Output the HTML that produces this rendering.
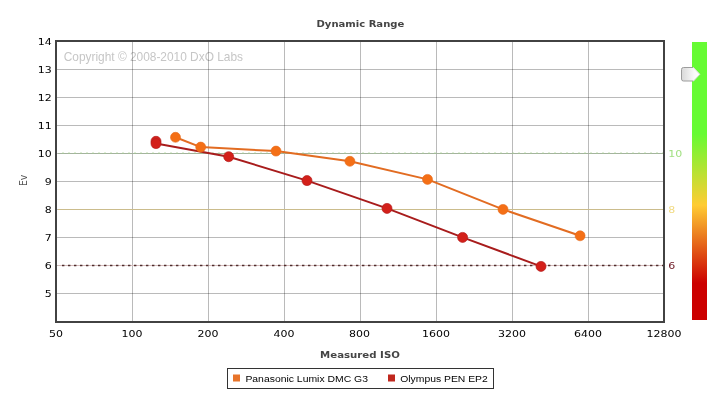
<!DOCTYPE html>
<html><head><meta charset="utf-8"><title>Dynamic Range</title>
<style>
html,body{margin:0;padding:0;background:#fff;}
body{width:720px;height:403px;overflow:hidden;}
svg{display:block;}
.v{font-family:"DejaVu Sans","Liberation Sans",sans-serif;}
.a{font-family:"Liberation Sans","DejaVu Sans",sans-serif;}
</style></head><body>
<svg width="720" height="403" viewBox="0 0 720 403">
<defs>
<linearGradient id="bar" x1="0" y1="0" x2="0" y2="1">
<stop offset="0" stop-color="#66fb33"/>
<stop offset="0.33" stop-color="#66fb33"/>
<stop offset="0.587" stop-color="#ffcc33"/>
<stop offset="0.867" stop-color="#cc0000"/>
<stop offset="1" stop-color="#cc0000"/>
</linearGradient>
<linearGradient id="hd" x1="0" y1="0" x2="1" y2="0">
<stop offset="0" stop-color="#d8d8d8"/>
<stop offset="0.7" stop-color="#fafafa"/>
<stop offset="1" stop-color="#ffffff"/>
</linearGradient>
</defs>
<rect width="720" height="403" fill="#fff"/>
<!-- watermark -->
<text class="a" x="63.7" y="61.4" font-size="11.9" fill="#c6c6c6">Copyright © 2008-2010 DxO Labs</text>
<!-- grid -->
<g stroke="#000" stroke-opacity="0.27" stroke-width="1" shape-rendering="crispEdges">
<path d="M132.5 41.5V321.5M208.5 41.5V321.5M284.5 41.5V321.5M360.5 41.5V321.5M436.5 41.5V321.5M512.5 41.5V321.5M588.5 41.5V321.5"/>
<path d="M56.5 69.5H664.5M56.5 97.5H664.5M56.5 125.5H664.5M56.5 153.5H664.5M56.5 181.5H664.5M56.5 209.5H664.5M56.5 237.5H664.5M56.5 265.5H664.5M56.5 293.5H664.5"/>
</g>
<!-- reference lines -->
<path d="M57.5 153.5H663.5" stroke="#a4b39e" stroke-width="1" shape-rendering="crispEdges"/>
<path d="M62 153H663" stroke="#a5cf90" stroke-width="1" stroke-dasharray="2 4" opacity="0.7"/>
<path d="M57.5 209.5H663.5" stroke="#cbbc8c" stroke-width="1" shape-rendering="crispEdges"/>
<path d="M57.5 265.5H663.5" stroke="#d6bcbc" stroke-width="1" shape-rendering="crispEdges"/>
<path d="M62 265.5H663" stroke="#4f2c2c" stroke-width="1.3" stroke-dasharray="2.4 3.6"/>
<!-- frame -->
<rect x="56" y="41" width="608" height="281" fill="none" stroke="#424242" stroke-width="2" shape-rendering="crispEdges"/>
<!-- series -->
<g fill="none" stroke-width="2" stroke-linejoin="round">
<polyline stroke="#e26c22" points="175.5,137.3 200.7,147.1 276,151.1 349.9,161.3 427.5,179.4 503,209.4 580.1,235.8"/>
<polyline stroke="#a81c1c" points="156,141.5 156,143.5 228.7,156.7 307,180.6 387,208.4 462.6,237.4 541,266.4"/>
</g>
<g fill="#f46f16" stroke="#e56b1e" stroke-width="0.6">
<circle cx="175.5" cy="137.3" r="5"/><circle cx="200.7" cy="147.1" r="5"/><circle cx="276" cy="151.1" r="5"/><circle cx="349.9" cy="161.3" r="5"/><circle cx="427.5" cy="179.4" r="5"/><circle cx="503" cy="209.4" r="5"/><circle cx="580.1" cy="235.8" r="5"/>
</g>
<g fill="#d3201a" stroke="#b51e1e" stroke-width="0.7">
<circle cx="156" cy="141.3" r="5"/><circle cx="156" cy="143.6" r="5"/><circle cx="228.7" cy="156.7" r="5"/><circle cx="307" cy="180.6" r="5"/><circle cx="387" cy="208.4" r="5"/><circle cx="462.6" cy="237.4" r="5"/><circle cx="541" cy="266.4" r="5"/>
</g>
<!-- title -->
<text class="v" transform="translate(360.4 27.2) scale(1.068 1)" font-size="9.4" font-weight="bold" fill="#444" text-anchor="middle">Dynamic Range</text>
<!-- y ticks -->
<g class="v" font-size="9.4" fill="#000" text-anchor="end">
<text transform="translate(51.8 45.0) scale(1.17 1)">14</text><text transform="translate(51.8 73.0) scale(1.17 1)">13</text><text transform="translate(51.8 101.0) scale(1.17 1)">12</text><text transform="translate(51.8 129.0) scale(1.17 1)">11</text><text transform="translate(51.8 157.0) scale(1.17 1)">10</text><text transform="translate(51.8 185.0) scale(1.17 1)">9</text><text transform="translate(51.8 213.0) scale(1.17 1)">8</text><text transform="translate(51.8 241.0) scale(1.17 1)">7</text><text transform="translate(51.8 269.0) scale(1.17 1)">6</text><text transform="translate(51.8 297.0) scale(1.17 1)">5</text>
</g>
<!-- x ticks -->
<g class="v" font-size="9.4" fill="#000" text-anchor="middle">
<text transform="translate(56 337.3) scale(1.17 1)">50</text><text transform="translate(132 337.3) scale(1.17 1)">100</text><text transform="translate(208 337.3) scale(1.17 1)">200</text><text transform="translate(284 337.3) scale(1.17 1)">400</text><text transform="translate(359.5 337.3) scale(1.17 1)">800</text><text transform="translate(436 337.3) scale(1.17 1)">1600</text><text transform="translate(512 337.3) scale(1.17 1)">3200</text><text transform="translate(588 337.3) scale(1.17 1)">6400</text><text transform="translate(664 337.3) scale(1.17 1)">12800</text>
</g>
<!-- axis titles -->
<text class="v" font-size="10" fill="#555" text-anchor="middle" transform="translate(27.4 180.5) rotate(-90) scale(0.92 1.03)">Ev</text>
<text class="v" transform="translate(360 358) scale(1.085 1)" font-size="9.4" font-weight="bold" fill="#444" text-anchor="middle">Measured ISO</text>
<!-- right labels -->
<g class="v" font-size="9.4">
<text transform="translate(668.3 157.2) scale(1.17 1)" fill="#a2e083">10</text>
<text transform="translate(668.3 213.2) scale(1.17 1)" fill="#f1da80">8</text>
<text transform="translate(668.3 269.2) scale(1.17 1)" fill="#6a1420">6</text>
</g>
<!-- colour bar -->
<rect x="692" y="42" width="15" height="278" fill="url(#bar)"/>
<!-- handle -->
<path d="M683.5 67.5H693.5L699.8 74.3L693.5 81H683.5Q681.5 81 681.5 79V69.5Q681.5 67.5 683.5 67.5Z" fill="url(#hd)"/>
<path d="M693 81H683.5Q681.5 81 681.5 79V69.5Q681.5 67.5 683.5 67.5H693" fill="none" stroke="#9c9c9c" stroke-width="1"/>
<path d="M693 67.5H693.5L699.8 74.3L693.5 81H693" fill="none" stroke="#dcdcdc" stroke-width="1"/>
<!-- legend -->
<rect x="227.5" y="368.5" width="266" height="20" fill="#fff" stroke="#333" stroke-width="1" shape-rendering="crispEdges"/>
<rect x="233" y="374.5" width="7" height="7" fill="#e8742a"/>
<text class="a" transform="translate(245.4 381.9) scale(1.074 1)" font-size="9.7" fill="#000">Panasonic Lumix DMC G3</text>
<rect x="388" y="374.5" width="7" height="7" fill="#c0281e"/>
<text class="a" transform="translate(400.2 381.9) scale(1.07 1)" font-size="9.7" fill="#000">Olympus PEN EP2</text>
</svg>
</body></html>
